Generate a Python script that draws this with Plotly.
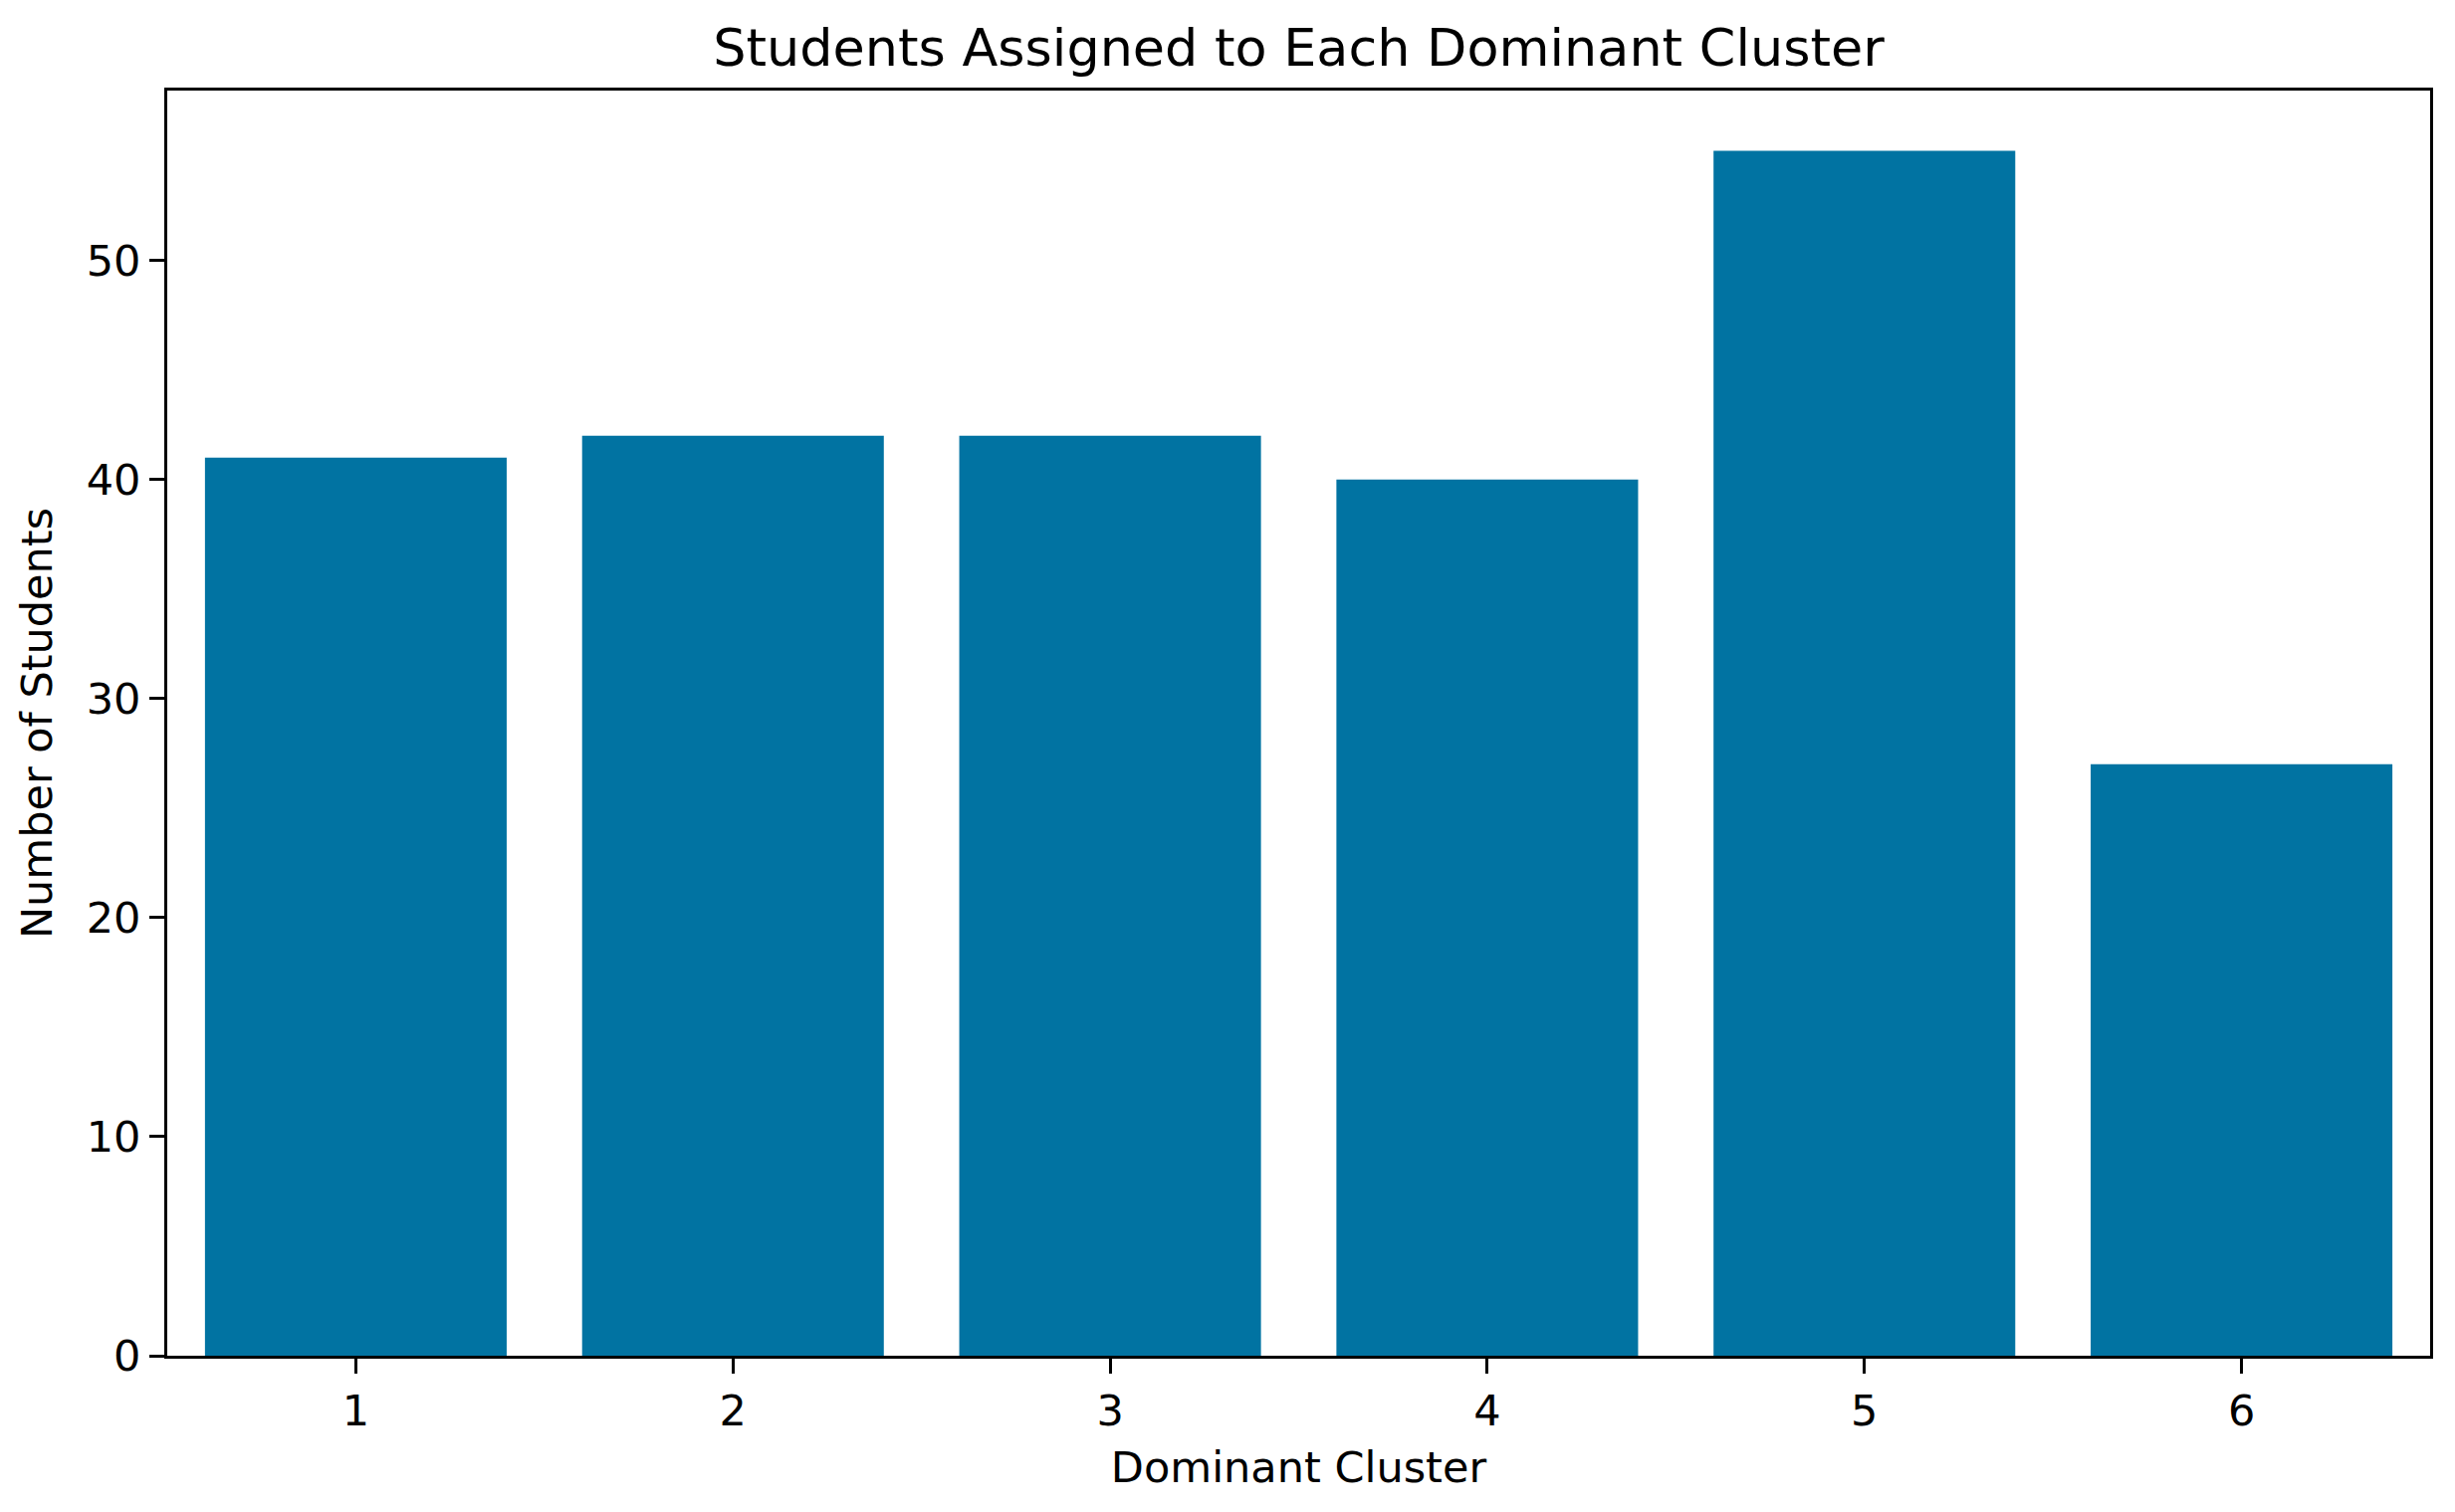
import plotly.graph_objects as go

# Students per dominant cluster
clusters = [1, 2, 3, 4, 5, 6]
students = [41, 42, 42, 40, 55, 27]

BAR_COLOR = "#0173a2"
FONT = "DejaVu Sans"

fig = go.Figure(
    go.Bar(
        x=clusters,
        y=students,
        width=0.8,
        marker=dict(color=BAR_COLOR, line=dict(width=0)),
    )
)

# page body has an 8px margin, so size the figure to fit inside it
fig.update_layout(
    width=2450,
    height=1503,
    plot_bgcolor="white",
    paper_bgcolor="white",
    font=dict(family=FONT, size=43, color="black"),
    margin=dict(l=160, r=17, t=83, b=149),
    showlegend=False,
    title=dict(
        text="Students Assigned to Each Dominant Cluster",
        font=dict(family=FONT, size=52.4, color="black"),
        x=0.5,
        xref="paper",
        xanchor="center",
        y=1,
        yref="paper",
        yanchor="bottom",
        pad=dict(b=25),
    ),
)

fig.update_xaxes(
    range=[0.5, 6.5],
    tickmode="array",
    tickvals=clusters,
    ticktext=[str(c) for c in clusters],
    ticks="outside",
    ticklen=15,
    tickwidth=3,
    tickcolor="black",
    showline=True,
    linewidth=3,
    linecolor="black",
    mirror=True,
    showgrid=False,
    zeroline=False,
    title=dict(text="Dominant Cluster", font=dict(size=43), standoff=19),
)

fig.update_yaxes(
    range=[0, 57.75],
    tickvals=[0, 10, 20, 30, 40, 50],
    ticks="outside",
    ticklen=15,
    tickwidth=3,
    tickcolor="black",
    showline=True,
    linewidth=3,
    linecolor="black",
    mirror=True,
    showgrid=False,
    zeroline=False,
    title=dict(text="Number of Students", font=dict(size=43), standoff=21),
)

fig.write_html("out.html")
